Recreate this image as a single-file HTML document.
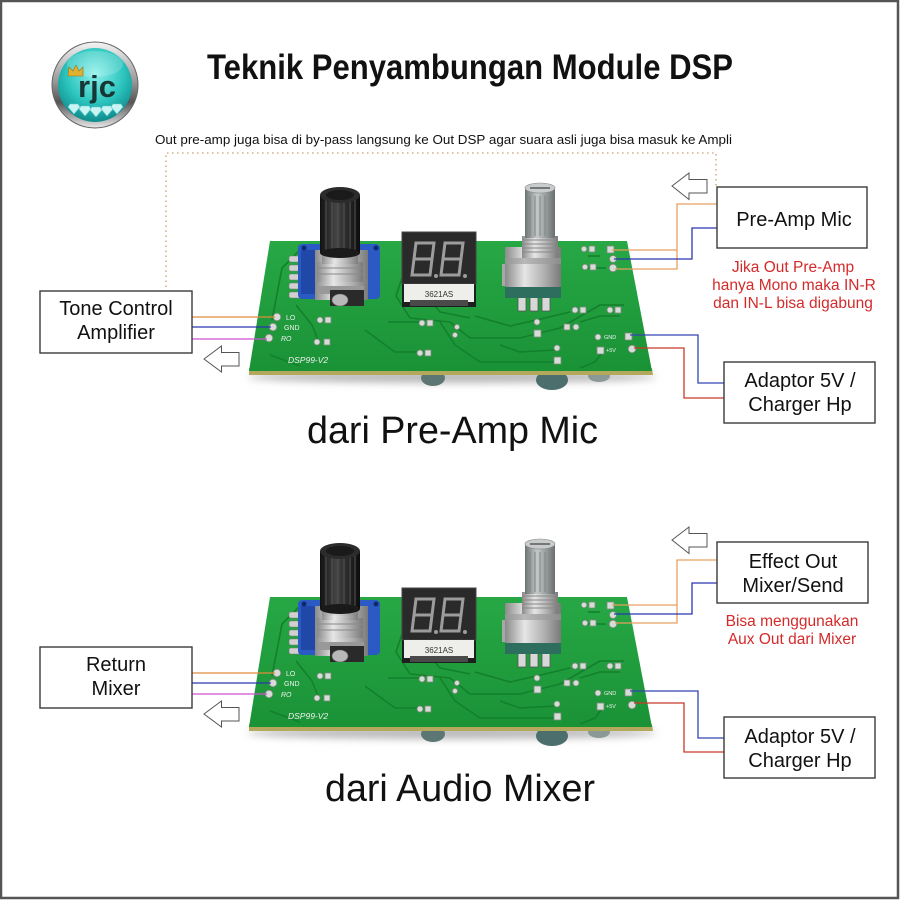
<!DOCTYPE html>
<html><head><meta charset="utf-8">
<style>
html,body{margin:0;padding:0;background:#fff;}
svg{display:block;}
text{font-family:"Liberation Sans",Arial,sans-serif;}
</style></head>
<body>
<svg width="900" height="900" viewBox="0 0 900 900" xmlns="http://www.w3.org/2000/svg">
<defs>
  <linearGradient id="ring" x1="0" y1="0" x2="0" y2="1">
    <stop offset="0" stop-color="#f4f4f4"/><stop offset=".45" stop-color="#9a9a9a"/><stop offset=".7" stop-color="#555"/><stop offset="1" stop-color="#e8e8e8"/>
  </linearGradient>
  <radialGradient id="teal" cx=".5" cy=".35" r=".65">
    <stop offset="0" stop-color="#8af0ea"/><stop offset=".6" stop-color="#2cc4be"/><stop offset="1" stop-color="#0e8c8c"/>
  </radialGradient>
  <linearGradient id="board" x1="0" y1="0" x2="0" y2="1">
    <stop offset="0" stop-color="#27a845"/><stop offset="1" stop-color="#1a9236"/>
  </linearGradient>
  <linearGradient id="silver" x1="0" y1="0" x2="1" y2="0">
    <stop offset="0" stop-color="#8a8a8a"/><stop offset=".35" stop-color="#e6e6e6"/><stop offset=".7" stop-color="#b0b0b0"/><stop offset="1" stop-color="#7a7a7a"/>
  </linearGradient>
  <linearGradient id="shaft" x1="0" y1="0" x2="1" y2="0">
    <stop offset="0" stop-color="#6c7472"/><stop offset=".4" stop-color="#c4c8c8"/><stop offset="1" stop-color="#6a7070"/>
  </linearGradient>
  <linearGradient id="knob" x1="0" y1="0" x2="1" y2="0">
    <stop offset="0" stop-color="#111"/><stop offset=".4" stop-color="#444"/><stop offset="1" stop-color="#0c0c0c"/>
  </linearGradient>
  <filter id="blur" x="-20%" y="-200%" width="140%" height="500%"><feGaussianBlur stdDeviation="4"/></filter>

  <g id="pcb">
    <!-- shadow -->
    <ellipse cx="452" cy="377" rx="205" ry="6" fill="#b8b8b8" filter="url(#blur)"/>
    <!-- parts under board -->
    <ellipse cx="433" cy="378" rx="12" ry="8" fill="#5c7674"/>
    <ellipse cx="552" cy="380" rx="16" ry="10" fill="#4c6e6c"/>
    <ellipse cx="599" cy="376" rx="11" ry="6" fill="#8a9896"/>
    <!-- board edge -->
    <polygon points="249,368 652,368 653,375 249,375" fill="#b4a85c"/>
    <!-- board -->
    <polygon points="270,241 627,241 652,371 249,371" fill="url(#board)"/>
    <!-- traces -->
    <g fill="none" stroke="#13802c" stroke-width="1.6" stroke-linejoin="round">
      <polyline points="302,248 282,268 272,320"/>
      <polyline points="296,305 312,325 318,340"/>
      <polyline points="402,278 396,296 410,318 450,322 470,338 520,338 560,328 600,305 624,305"/>
      <polyline points="440,322 455,345 480,362 560,362"/>
      <polyline points="388,322 420,322"/>
      <polyline points="365,330 395,352 420,352"/>
      <polyline points="475,316 510,326 545,318 570,312"/>
      <polyline points="580,322 600,316 620,316"/>
      <polyline points="430,300 440,312 470,318"/>
      <polyline points="500,345 520,352 555,350"/>
      <polyline points="588,256 600,256"/>
      <polyline points="588,268 606,268"/>
      <polyline points="604,350 595,362 580,368"/>
      <polyline points="270,355 300,366"/>
    </g>
    <!-- pads -->
    <g fill="#d8dcd8" stroke="#7a8a7a" stroke-width=".8">
      <circle cx="277" cy="317" r="3.8"/><circle cx="273" cy="327" r="3.8"/><circle cx="269" cy="338" r="3.8"/>
      <circle cx="320" cy="320" r="3"/><rect x="325" y="317" width="6" height="6"/>
      <circle cx="317" cy="342" r="3"/><rect x="324" y="339" width="6" height="6"/>
      <circle cx="422" cy="323" r="3"/><rect x="427" y="320" width="6" height="6"/>
      <circle cx="457" cy="327" r="2.6"/><circle cx="455" cy="335" r="2.6"/>
      <circle cx="420" cy="353" r="3"/><rect x="425" y="350" width="6" height="6"/>
      <circle cx="537" cy="322" r="3"/><rect x="534" y="330" width="7" height="7"/>
      <circle cx="575" cy="310" r="3"/><rect x="580" y="307" width="6" height="6"/>
      <circle cx="610" cy="310" r="3"/><rect x="615" y="307" width="6" height="6"/>
      <rect x="564" y="324" width="6" height="6"/><circle cx="576" cy="327" r="3"/>
      <circle cx="598" cy="337" r="3"/><rect x="625" y="333" width="7" height="7"/>
      <rect x="597" y="347" width="7" height="7"/><circle cx="632" cy="349" r="3.8"/>
      <circle cx="557" cy="348" r="3"/><rect x="554" y="357" width="7" height="7"/>
      <circle cx="584" cy="249" r="2.8"/><rect x="589" y="246" width="6" height="6"/>
      <rect x="607" y="246" width="7" height="7"/><circle cx="613" cy="259" r="3.5"/>
      <circle cx="585" cy="267" r="2.8"/><rect x="590" y="264" width="6" height="6"/>
      <circle cx="613" cy="268" r="3.8"/>
    </g>
    <!-- left pot -->
    <g fill="#d0d0d0" stroke="#777" stroke-width=".6">
      <rect x="289" y="256" width="14" height="6" rx="2"/>
      <rect x="289" y="265" width="14" height="6" rx="2"/>
      <rect x="289" y="274" width="14" height="6" rx="2"/>
      <rect x="289" y="283" width="14" height="6" rx="2"/>
      <rect x="289" y="292" width="14" height="6" rx="2"/>
    </g>
    <rect x="298" y="244" width="82" height="55" rx="4" fill="#2b5ac4"/>
    <rect x="301" y="250" width="16" height="44" fill="#1f48a8"/>
    <polygon points="315,250 368,250 368,300 315,300" fill="url(#silver)"/>
    <rect x="318" y="286" width="46" height="8" fill="#999"/>
    <rect x="330" y="290" width="34" height="16" fill="#2a2a2a"/>
    <ellipse cx="340" cy="300" rx="8" ry="6" fill="#b8b8b8" stroke="#666" stroke-width=".6"/>
    <rect x="317" y="262" width="46" height="20" fill="url(#silver)"/>
    <g stroke="#8a8a8a" stroke-width="1"><line x1="322" y1="255" x2="358" y2="255"/><line x1="322" y1="259" x2="358" y2="259"/><line x1="317" y1="268" x2="363" y2="268"/><line x1="317" y1="274" x2="363" y2="274"/></g>
    <rect x="322" y="250" width="36" height="14" fill="url(#silver)" opacity=".85"/>
    <rect x="320" y="195" width="40" height="58" fill="url(#knob)"/>
    <g stroke="#555" stroke-width="1"><line x1="326" y1="200" x2="326" y2="251"/><line x1="332" y1="200" x2="332" y2="251"/><line x1="338" y1="200" x2="338" y2="251"/><line x1="344" y1="200" x2="344" y2="251"/><line x1="350" y1="200" x2="350" y2="251"/><line x1="355" y1="200" x2="355" y2="251"/></g>
    <ellipse cx="340" cy="195" rx="20" ry="8" fill="#2c2c2c"/>
    <ellipse cx="340" cy="195" rx="14" ry="5" fill="#1a1a1a"/>
    <ellipse cx="340" cy="253" rx="20" ry="5" fill="#1a1a1a"/>
    <circle cx="304" cy="248" r="2.5" fill="#0c2a70"/><circle cx="376" cy="248" r="2.5" fill="#0c2a70"/>
    <!-- display -->
    <rect x="402" y="232" width="74" height="75" fill="#1e1e1e"/>
    <rect x="402" y="232" width="74" height="52" fill="#2a2a2a" stroke="#444" stroke-width="1"/>
    <g fill="none" stroke="#9c9c9c" stroke-width="3">
      <path d="M416,243 L434,243 L432,259 L414,259 Z M414,259 L432,259 L430,275 L412,275 Z"/>
      <path d="M445,243 L463,243 L461,259 L443,259 Z M443,259 L461,259 L459,275 L441,275 Z"/>
    </g>
    <circle cx="436" cy="276" r="2" fill="#9c9c9c"/><circle cx="465" cy="276" r="2" fill="#9c9c9c"/>
    <rect x="404" y="284" width="70" height="18" fill="#eeeeea"/>
    <rect x="410" y="300" width="58" height="6" fill="#4a4a4a"/>
    <!-- right encoder -->
    <g fill="#d8d8d8" stroke="#555" stroke-width=".8">
      <rect x="518" y="294" width="8" height="17"/><rect x="530" y="294" width="8" height="17"/><rect x="542" y="294" width="8" height="17"/>
    </g>
    <rect x="505" y="283" width="56" height="15" fill="#2e6e5e"/>
    <rect x="502" y="264" width="7" height="22" fill="#a8a8a8"/>
    <rect x="505" y="247" width="56" height="40" fill="url(#silver)"/>
    <rect x="505" y="258" width="56" height="6" fill="#9a9a9a" opacity=".6"/>
    <rect x="522" y="236" width="36" height="22" fill="url(#silver)"/>
    <g stroke="#888" stroke-width="1"><line x1="522" y1="240" x2="558" y2="240"/><line x1="522" y1="244" x2="558" y2="244"/><line x1="522" y1="248" x2="558" y2="248"/><line x1="522" y1="252" x2="558" y2="252"/></g>
    <rect x="525" y="188" width="30" height="50" fill="url(#shaft)"/>
    <g stroke="#7e8684" stroke-width="1"><line x1="530" y1="196" x2="530" y2="236"/><line x1="535" y1="196" x2="535" y2="236"/><line x1="540" y1="196" x2="540" y2="236"/><line x1="545" y1="196" x2="545" y2="236"/><line x1="550" y1="196" x2="550" y2="236"/></g>
    <ellipse cx="540" cy="188" rx="15" ry="5" fill="#c8cccc" stroke="#8a8a8a" stroke-width=".6"/>
    <line x1="530" y1="188" x2="550" y2="188" stroke="#777" stroke-width="2"/>
  </g>

  <g id="arrL">
    <polygon points="204,359 221.5,346 221.5,352.5 239,352.5 239,366 221.5,366 221.5,372" fill="#fff" stroke="#555" stroke-width="1"/>
  </g>
  <g id="arrR">
    <polygon points="672,186 689,173 689,179.5 707,179.5 707,193 689,193 689,199.5" fill="#fff" stroke="#555" stroke-width="1"/>
  </g>
</defs>

<rect x="0" y="0" width="900" height="900" fill="#fff"/>

<!-- logo -->
<circle cx="95" cy="85" r="43" fill="url(#ring)" stroke="#666" stroke-width="1"/>
<circle cx="95" cy="85" r="37" fill="url(#teal)"/>
<ellipse cx="95" cy="64" rx="28" ry="13" fill="#fff" opacity=".18"/>
<text x="97" y="97" font-size="31" font-weight="bold" text-anchor="middle" fill="#173636" font-family="'Liberation Mono',monospace">rjc</text>
<polygon points="68,76 69,67 73,71 76,65 79,71 83,67 83,76" fill="#e0b030" stroke="#a07010" stroke-width=".6"/>
<g fill="#c8f4f4" stroke="#6ac8c8" stroke-width=".6">
  <polygon points="70,104 78,104 80,107 74,114 68,107"/>
  <polygon points="81,106 89,106 91,109 85,116 79,109"/>
  <polygon points="92,107 100,107 102,110 96,117 90,110"/>
  <polygon points="103,106 111,106 113,109 107,116 101,109"/>
  <polygon points="113,104 121,104 123,107 117,114 111,107"/>
</g>

<!-- title -->
<text x="207" y="79" font-size="35" font-weight="bold" fill="#111" textLength="526" lengthAdjust="spacingAndGlyphs">Teknik Penyambungan Module DSP</text>
<text x="155" y="144" font-size="12.5" fill="#111" textLength="577" lengthAdjust="spacingAndGlyphs">Out pre-amp juga bisa di by-pass langsung ke Out DSP agar suara asli juga bisa masuk ke Ampli</text>

<!-- dotted bypass line -->
<polyline points="166,287 166,153 716,153 716,187" fill="none" stroke="#d2b086" stroke-width="1.6" stroke-dasharray="1.5 3.5"/>

<!-- boards -->
<use href="#pcb"/>
<use href="#pcb" transform="translate(0,356)"/>

<!-- PCB labels top -->
<g fill="#f0f0f0" font-size="7">
  <text x="286" y="320">LO</text><text x="284" y="330">GND</text><text x="281" y="341" font-style="italic">RO</text>
  <text x="288" y="363" font-size="8.5" font-style="italic">DSP99-V2</text>
  <text x="604" y="339" font-size="5.5">GND</text><text x="606" y="352" font-size="5.5">+5V</text>
</g>
<text x="439" y="297" font-size="8" text-anchor="middle" fill="#333">3621AS</text>
<!-- PCB labels bottom -->
<g fill="#f0f0f0" font-size="7">
  <text x="286" y="676">LO</text><text x="284" y="686">GND</text><text x="281" y="697" font-style="italic">RO</text>
  <text x="288" y="719" font-size="8.5" font-style="italic">DSP99-V2</text>
  <text x="604" y="695" font-size="5.5">GND</text><text x="606" y="708" font-size="5.5">+5V</text>
</g>
<text x="439" y="653" font-size="8" text-anchor="middle" fill="#333">3621AS</text>

<!-- ===== TOP SECTION connectors ===== -->
<g fill="none" stroke-width="1.3">
  <line x1="192" y1="317" x2="275" y2="317" stroke="#e08a3c"/>
  <line x1="192" y1="327" x2="271" y2="327" stroke="#2a36b0"/>
  <line x1="192" y1="339" x2="267" y2="339" stroke="#d050d0"/>
  <polyline points="717,204 677,204 677,269 615,269" stroke="#e8a060"/>
  <line x1="612" y1="250" x2="677" y2="250" stroke="#e8a060"/>
  <polyline points="717,228 692,228 692,259 614,259" stroke="#2a36b0"/>
  <polyline points="630,335 698,335 698,383 724,383" stroke="#3444b0"/>
  <polyline points="634,348 684,348 684,398 724,398" stroke="#c83a2a"/>
</g>
<use href="#arrL"/>
<use href="#arrR"/>

<rect x="40" y="291" width="152" height="62" fill="#fff" stroke="#3a3a3a" stroke-width="1.4"/>
<text x="116" y="315" font-size="20" text-anchor="middle" fill="#111">Tone Control</text>
<text x="116" y="339" font-size="20" text-anchor="middle" fill="#111">Amplifier</text>

<rect x="717" y="187" width="150" height="61" fill="#fff" stroke="#3a3a3a" stroke-width="1.4"/>
<text x="794" y="226" font-size="20" text-anchor="middle" fill="#111">Pre-Amp Mic</text>

<g fill="#d42a2a" font-size="15.5" text-anchor="middle">
  <text x="793" y="272">Jika Out Pre-Amp</text>
  <text x="794" y="290">hanya Mono maka IN-R</text>
  <text x="793" y="308">dan IN-L bisa digabung</text>
</g>

<rect x="724" y="362" width="151" height="61" fill="#fff" stroke="#3a3a3a" stroke-width="1.4"/>
<text x="800" y="387" font-size="20" text-anchor="middle" fill="#111">Adaptor 5V /</text>
<text x="800" y="411" font-size="20" text-anchor="middle" fill="#111">Charger Hp</text>

<text x="307" y="443" font-size="38" fill="#111" textLength="291" lengthAdjust="spacingAndGlyphs">dari Pre-Amp Mic</text>

<!-- ===== BOTTOM SECTION connectors ===== -->
<g fill="none" stroke-width="1.3">
  <line x1="192" y1="673" x2="275" y2="673" stroke="#e08a3c"/>
  <line x1="192" y1="683" x2="271" y2="683" stroke="#2a36b0"/>
  <line x1="192" y1="694" x2="267" y2="694" stroke="#d050d0"/>
  <polyline points="717,560 677,560 677,623 615,623" stroke="#e8a060"/>
  <line x1="612" y1="605" x2="677" y2="605" stroke="#e8a060"/>
  <polyline points="717,583 692,583 692,614 614,614" stroke="#2a36b0"/>
  <polyline points="630,691 698,691 698,738 724,738" stroke="#3444b0"/>
  <polyline points="634,703 684,703 684,752 724,752" stroke="#c83a2a"/>
</g>
<use href="#arrL" transform="translate(0,355)"/>
<use href="#arrR" transform="translate(0,354)"/>

<rect x="40" y="647" width="152" height="61" fill="#fff" stroke="#3a3a3a" stroke-width="1.4"/>
<text x="116" y="671" font-size="20" text-anchor="middle" fill="#111">Return</text>
<text x="116" y="695" font-size="20" text-anchor="middle" fill="#111">Mixer</text>

<rect x="717" y="542" width="151" height="61" fill="#fff" stroke="#3a3a3a" stroke-width="1.4"/>
<text x="793" y="568" font-size="20" text-anchor="middle" fill="#111">Effect Out</text>
<text x="793" y="592" font-size="20" text-anchor="middle" fill="#111">Mixer/Send</text>

<g fill="#d42a2a" font-size="15.5" text-anchor="middle">
  <text x="792" y="626">Bisa menggunakan</text>
  <text x="792" y="644">Aux Out dari Mixer</text>
</g>

<rect x="724" y="717" width="151" height="61" fill="#fff" stroke="#3a3a3a" stroke-width="1.4"/>
<text x="800" y="743" font-size="20" text-anchor="middle" fill="#111">Adaptor 5V /</text>
<text x="800" y="767" font-size="20" text-anchor="middle" fill="#111">Charger Hp</text>

<text x="325" y="801" font-size="38" fill="#111" textLength="270" lengthAdjust="spacingAndGlyphs">dari Audio Mixer</text>

<!-- frame -->
<rect x="1" y="1" width="897" height="897" fill="none" stroke="#555" stroke-width="2.5"/>
</svg>
</body></html>
